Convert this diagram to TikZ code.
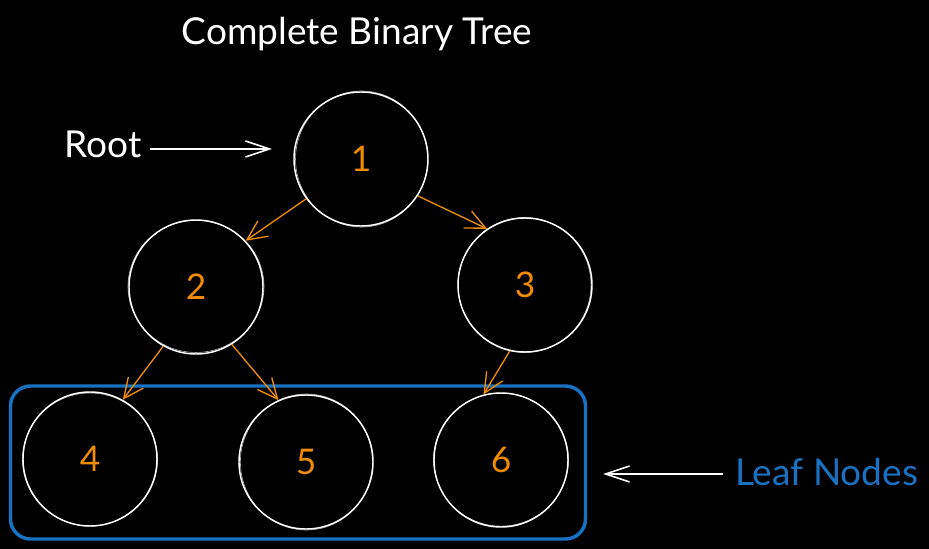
\documentclass[tikz,border=0pt]{standalone}
\usepackage{fontspec}
\setmainfont{Lato}
\usetikzlibrary{arrows.meta}
\definecolor{exorange}{HTML}{F08C00}
\definecolor{exblue}{HTML}{1971C2}
\begin{document}
\begin{tikzpicture}[x=0.75pt,y=-0.75pt,
  treenode/.style={circle,draw=white,line width=1.1pt,minimum size=100.5pt,inner sep=0pt,
    text=exorange,font=\fontsize{26.5}{31}\selectfont},
  sketch/.style={draw=white,line width=0.45pt,opacity=0.7},
  label/.style={inner sep=0pt,font=\fontsize{27.8}{33}\selectfont},
  edge/.style={draw=exorange,line width=1pt,-{Straight Barb[length=15pt,width=14pt]}},
  pointer/.style={draw=white,line width=1.2pt,-{Straight Barb[length=18pt,width=12pt]}},
  leafbox/.style={draw=exblue,line width=2.6pt,rounded corners=15pt}
]
\fill[black] (0,0) rectangle (929,549);
\useasboundingbox (0,0) rectangle (929,549);

% title and labels
\node[label,text=white,anchor=base] (title) at (357,45) {Complete Binary Tree};
\node[label,text=white,anchor=base west] (root) at (64,158) {Root};
\node[label,text=exblue,anchor=base west] (leaf) at (735,485) {Leaf Nodes};

% leaf box
\draw[leafbox] (10.5,386) rectangle (585.5,539);

% tree nodes
\node[treenode] (n1) at (361,159) {1};
\node[treenode] (n2) at (196,287) {2};
\node[treenode] (n3) at (525,285) {3};
\node[treenode] (n4) at (90,459) {4};
\node[treenode] (n5) at (306,462) {5};
\node[treenode] (n6) at (501,460) {6};

% sketchy second strokes
\draw[sketch] ([xshift=0.4pt]n1.center) ellipse [x radius=66, y radius=68];
\draw[sketch] ([yshift=0.4pt]n2.center) ellipse [x radius=68, y radius=66];
\draw[sketch] ([xshift=-0.4pt]n3.center) ellipse [x radius=66.5, y radius=67.5];
\draw[sketch] ([yshift=-0.4pt]n4.center) ellipse [x radius=67.5, y radius=66.5];
\draw[sketch] ([xshift=0.3pt]n5.center) ellipse [x radius=66, y radius=68];
\draw[sketch] ([yshift=0.3pt]n6.center) ellipse [x radius=67.5, y radius=66.5];

% edges
\draw[edge] (n1.216.5) -- (n2.43);
\draw[edge] (n1.-33) -- (n3.124);
\draw[edge] (n2.241) -- (n4.61.5);
\draw[edge] (n2.-58) -- (n5.114);
\draw[edge] (n3.257) -- (n6.105);

% pointers
\coordinate (rootstart) at (150,149);
\coordinate (rootend) at (272,149);
\draw[pointer] (rootstart) -- (rootend);
\coordinate (leafstart) at (723,474);
\coordinate (leafend) at (603,474);
\draw[pointer] (leafstart) -- (leafend);
\end{tikzpicture}
\end{document}
